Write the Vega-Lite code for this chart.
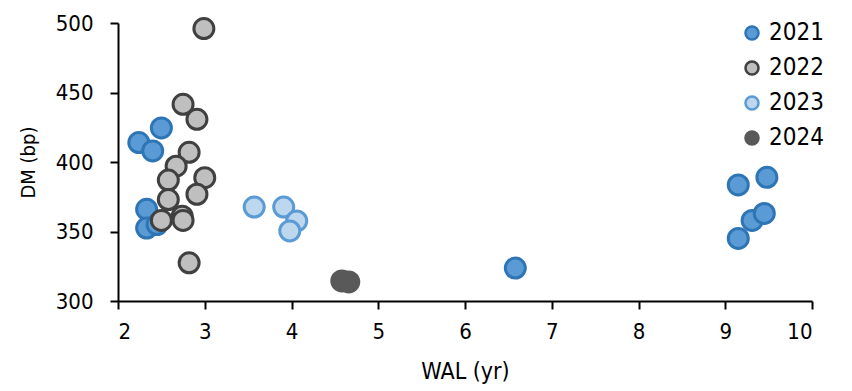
{
  "$schema": "https://vega.github.io/schema/vega-lite/v6.json",
  "width": 694,
  "height": 278,
  "autosize": "none",
  "padding": {"left": 118, "top": 23, "right": 40, "bottom": 90},
  "background": "white",
  "config": {
    "view": {"stroke": null},
    "font": "DejaVu Sans Condensed, Liberation Sans",
    "axis": {
      "grid": false,
      "domainColor": "black",
      "domainWidth": 2,
      "tickColor": "black",
      "tickWidth": 2,
      "tickSize": 8,
      "labelColor": "black",
      "titleColor": "black",
      "labelFontSize": 22,
      "titleFontSize": 23,
      "titleFontWeight": "normal",
      "labelFont": "DejaVu Sans Condensed, Liberation Sans",
      "titleFont": "DejaVu Sans Condensed, Liberation Sans"
    },
    "legend": {"labelFont": "DejaVu Sans Condensed, Liberation Sans"}
  },
  "data": {
    "values": [
      {"wal": 2.24, "dm": 414, "year": "2021"},
      {"wal": 2.50, "dm": 424.5, "year": "2021"},
      {"wal": 2.40, "dm": 408, "year": "2021"},
      {"wal": 2.33, "dm": 366, "year": "2021"},
      {"wal": 2.33, "dm": 352.5, "year": "2021"},
      {"wal": 2.45, "dm": 355, "year": "2021"},
      {"wal": 6.58, "dm": 323.7, "year": "2021"},
      {"wal": 9.15, "dm": 383.5, "year": "2021"},
      {"wal": 9.48, "dm": 389, "year": "2021"},
      {"wal": 9.31, "dm": 358, "year": "2021"},
      {"wal": 9.45, "dm": 363, "year": "2021"},
      {"wal": 9.15, "dm": 345, "year": "2021"},
      {"wal": 2.99, "dm": 496, "year": "2022"},
      {"wal": 2.75, "dm": 441.5, "year": "2022"},
      {"wal": 2.91, "dm": 430.7, "year": "2022"},
      {"wal": 2.82, "dm": 407, "year": "2022"},
      {"wal": 2.67, "dm": 397, "year": "2022"},
      {"wal": 2.58, "dm": 387, "year": "2022"},
      {"wal": 3.00, "dm": 388.7, "year": "2022"},
      {"wal": 2.58, "dm": 373, "year": "2022"},
      {"wal": 2.91, "dm": 376.8, "year": "2022"},
      {"wal": 2.74, "dm": 361, "year": "2022"},
      {"wal": 2.50, "dm": 358, "year": "2022"},
      {"wal": 2.75, "dm": 358, "year": "2022"},
      {"wal": 2.82, "dm": 327.5, "year": "2022"},
      {"wal": 3.57, "dm": 367.6, "year": "2023"},
      {"wal": 3.91, "dm": 367.6, "year": "2023"},
      {"wal": 4.06, "dm": 357.6, "year": "2023"},
      {"wal": 3.98, "dm": 350.4, "year": "2023"},
      {"wal": 4.58, "dm": 314.4, "year": "2024"},
      {"wal": 4.66, "dm": 313.7, "year": "2024"}
    ]
  },
  "mark": {"type": "point", "filled": true, "shape": "circle", "strokeWidth": 3, "opacity": 1, "size": 400},
  "encoding": {
    "x": {
      "field": "wal", "type": "quantitative", "title": "WAL (yr)",
      "scale": {"domain": [2, 10], "nice": false, "zero": false},
      "axis": {"values": [2, 3, 4, 5, 6, 7, 8, 9, 10], "labelPadding": 12, "titlePadding": 18}
    },
    "y": {
      "field": "dm", "type": "quantitative", "title": "DM (bp)",
      "scale": {"domain": [300, 500], "nice": false, "zero": false},
      "axis": {"values": [300, 350, 400, 450, 500], "labelPadding": 17, "titlePadding": 17, "titleFontSize": 20}
    },
    "fill": {
      "field": "year", "type": "nominal",
      "scale": {"domain": ["2021", "2022", "2023", "2024"], "range": ["#5B9BD5", "#BFBFBF", "#BDD7EE", "#595959"]},
      "legend": {
        "title": null, "orient": "none", "legendX": 622, "legendY": -2,
        "labelFontSize": 24, "labelColor": "black", "symbolSize": 170, "symbolStrokeWidth": 2.5,
        "rowPadding": 11, "labelOffset": 5, "symbolType": "circle"
      }
    },
    "stroke": {
      "field": "year", "type": "nominal",
      "scale": {"domain": ["2021", "2022", "2023", "2024"], "range": ["#2E75B6", "#404040", "#5B9BD5", "#595959"]},
      "legend": null
    }
  }
}
